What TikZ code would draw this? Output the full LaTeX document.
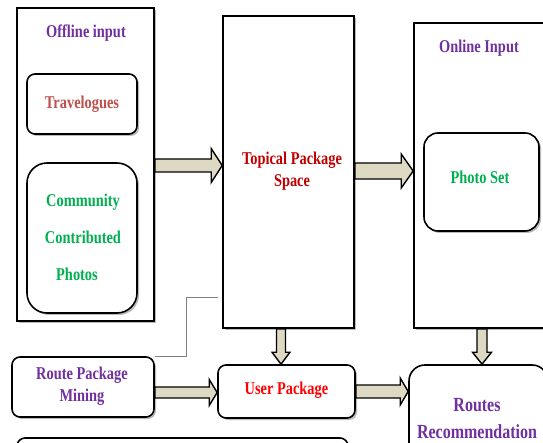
\documentclass[tikz,border=0pt]{standalone}
\usepackage{fontspec}
\setmainfont[FakeStretch=0.8]{Liberation Serif}
\usetikzlibrary{calc,shadows}
\definecolor{cpurple}{HTML}{7030A0}
\definecolor{cgreen}{HTML}{00B050}
\definecolor{ctrav}{HTML}{C0504D}
\definecolor{cdred}{HTML}{C00000}
\definecolor{cred}{HTML}{FF0000}
\definecolor{ctan}{HTML}{DDD9C3}
\newcommand{\harrow}[5]{%
  \draw[blockarrow] ($(#1)+(0,-#3)$) -- ($(#2)+(-#5,-#3)$) -- ($(#2)+(-#5,-#4)$) -- (#2)
    -- ($(#2)+(-#5,#4)$) -- ($(#2)+(-#5,#3)$) -- ($(#1)+(0,#3)$) -- cycle;}
\newcommand{\varrow}[5]{%
  \draw[blockarrow] ($(#1)+(-#3,0)$) -- ($(#2)+(-#3,-#5)$) -- ($(#2)+(-#4,-#5)$) -- (#2)
    -- ($(#2)+(#4,-#5)$) -- ($(#2)+(#3,-#5)$) -- ($(#1)+(#3,0)$) -- cycle;}
\begin{document}
\begin{tikzpicture}[x=1pt,y=-1pt,
  every node/.style={font=\bfseries\fontsize{18}{22}\selectfont},
  box/.style={draw=black, line width=1.6pt, fill=white, inner sep=0pt,
    drop shadow={shadow xshift=2pt, shadow yshift=-2pt, fill=black!60, opacity=0.45}},
  rbox/.style={box, rounded corners=#1},
  rbox/.default=8pt,
  lbl/.style={align=center, inner sep=0pt},
  blockarrow/.style={draw=black, line width=1.4pt, fill=ctan, line join=miter},
  grayline/.style={draw=black!50, line width=1pt}]
\useasboundingbox (0,0) rectangle (543,443);
\clip (0,0) rectangle (543,443);
% big boxes
\node[box, minimum width=137pt, minimum height=313pt] (off) at (85.5,164.5) {};
\node[box, minimum width=131pt, minimum height=312pt] (top) at (288.5,172) {};
\node[box, minimum width=146pt, minimum height=305pt] (onl) at (487,175.5) {};
% inner boxes
\node[rbox=8pt, minimum width=110pt, minimum height=60pt] (trav) at (82,104) {};
\node[rbox=20pt, minimum width=110pt, minimum height=150pt] (comm) at (82,238) {};
\node[rbox=14pt, minimum width=115pt, minimum height=98pt] (photo) at (481.5,182) {};
% bottom boxes
\node[rbox=8pt, minimum width=142pt, minimum height=60pt] (rpm) at (83,387) {};
\node[rbox=8pt, minimum width=137pt, minimum height=53pt] (user) at (286.5,391.5) {};
\node[rbox=16pt, minimum width=139pt, minimum height=110pt] (routes) at (478.5,420) {};
\node[rbox=8pt, minimum width=331pt, minimum height=50pt] (bottom) at (182.5,463) {};
% texts
\node[lbl, text=cpurple] (toff) at (86,33) {Offline input};
\node[lbl, text=ctrav] (ttrav) at (trav.center) {Travelogues};
\node[lbl, text=cgreen, font=\bfseries\fontsize{18}{37}\selectfont] (tcomm) at (83,237) {Community\\Contributed\\Photos\hspace*{12pt}};
\node[lbl, text=cdred] (ttop) at (292,171) {Topical Package\\Space};
\node[lbl, text=cpurple] (tonl) at (479,48) {Online Input};
\node[lbl, text=cgreen] (tphoto) at (480,177) {Photo Set};
\node[lbl, text=cpurple] (trpm) at (82,386) {Route Package\\Mining};
\node[lbl, text=cred] (tuser) at (286.5,390) {User Package};
\node[lbl, text=cpurple, font=\bfseries\fontsize{20}{27}\selectfont] (troutes) at (477,418.5) {Routes\\Recommendation};
% gray connector
\coordinate (gl) at (218,298);
\draw[grayline] (rpm.north east) -- ++(32,0) |- (gl);
% block arrows
\coordinate (a1s) at (off.east |- 0,165.5);
\coordinate (a1e) at (top.west |- 0,165.5);
\harrow{a1s}{a1e}{6.5}{17}{11}
\coordinate (a2s) at (top.east |- 0,171);
\coordinate (a2e) at (onl.west |- 0,171);
\harrow{a2s}{a2e}{8}{17}{12}
\coordinate (a3s) at (rpm.east |- 0,392.5);
\coordinate (a3e) at (user.west |- 0,392.5);
\harrow{a3s}{a3e}{5.5}{13}{8}
\coordinate (a4s) at (user.east |- 0,391.5);
\coordinate (a4e) at (routes.west |- 0,391.5);
\harrow{a4s}{a4e}{6.5}{13.5}{8}
\coordinate (a5s) at (281,0 |- top.south);
\coordinate (a5e) at (281,0 |- user.north);
\varrow{a5s}{a5e}{4.5}{9}{12}
\coordinate (a6s) at (482,0 |- onl.south);
\coordinate (a6e) at (482,0 |- routes.north);
\varrow{a6s}{a6e}{5}{9.5}{12}
\end{tikzpicture}
\end{document}
